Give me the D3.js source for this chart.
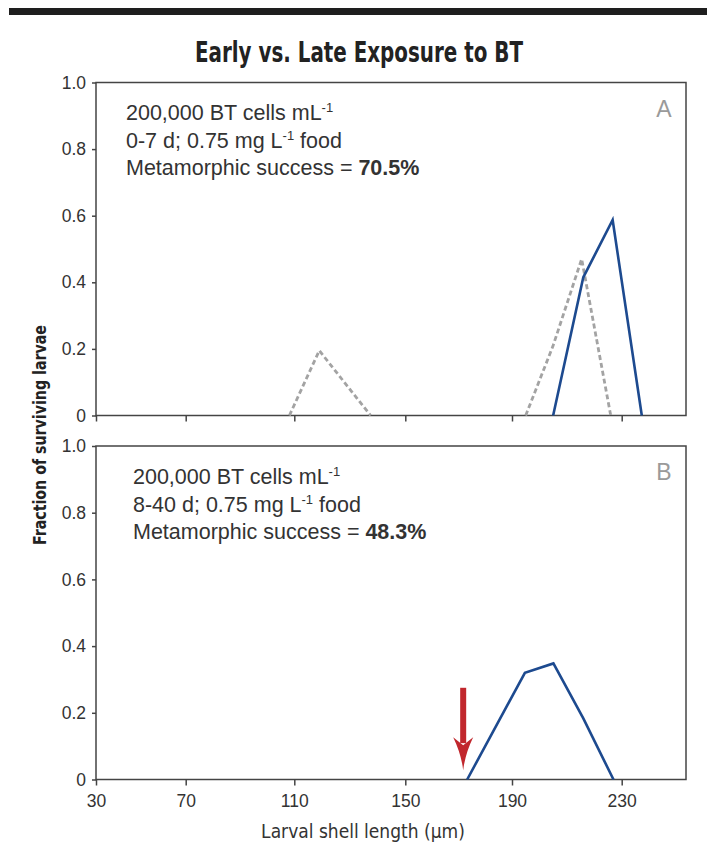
<!DOCTYPE html>
<html>
<head>
<meta charset="utf-8">
<script src="https://cdnjs.cloudflare.com/ajax/libs/d3/7.8.5/d3.min.js"></script>
<style>
  html, body { margin: 0; padding: 0; background: #fff; }
  svg { display: block; }
</style>
</head>
<body>
<div id="chart"></div>
<script>
// ---------------- DATA ----------------
const titleText = "Early vs. Late Exposure to BT";
const yAxisLabel = "Fraction of surviving larvae";
const xAxisLabel = "Larval shell length (\u03bcm)";

const xTickValues = [30, 70, 110, 150, 190, 230];
const xTickLabels = ["30", "70", "110", "150", "190", "230"];
const xDomainMax = 254;
const yTickValues = [0, 0.2, 0.4, 0.6, 0.8, 1.0];
const yTickLabels = ["0", "0.2", "0.4", "0.6", "0.8", "1.0"];

// Panel A — solid (blue) series
const panelASolidX = [205, 216, 226.7, 237.5];
const panelASolidY = [0, 0.415, 0.587, 0];
// Panel A — dashed (grey) series (null = gap)
const panelADashX = [108.2, 119, 137.5, null, 195, 205, 215.4, 226];
const panelADashY = [0, 0.195, 0, null, 0, 0.21, 0.47, 0];

// Panel B — solid (blue) series
const panelBSolidX = [173.2, 194.7, 205.1, 216, 227];
const panelBSolidY = [0, 0.32, 0.348, 0.183, 0];

// Panel B — red arrow annotation
const arrowX = 171.7;
const arrowFromY = 0.275;
const arrowToY = 0.028;

const panelTexts = [
  { letter: "A", days: "0-7 d; 0.75 mg L", success: "70.5%" },
  { letter: "B", days: "8-40 d; 0.75 mg L", success: "48.3%" }
];

// ---------------- LAYOUT ----------------
const W = 707, H = 846;
const left = 96, right = 686;
// measured pixel positions of the tick marks along the x axis (axis start labelled 30)
const xTickPixels = [96, 185.7, 294.3, 405.3, 512, 621.7, 686];
const panels = [
  { top: 82.5, bottom: 415.5, textX: 126, textY: 120, showLabels: false },
  { top: 446, bottom: 779.5, textX: 133, textY: 484, showLabels: true }
];

const svg = d3.select("#chart").append("svg")
  .attr("width", W).attr("height", H)
  .style("font-family", "'Liberation Sans', Arial, sans-serif");

// top black rule
svg.append("rect").attr("x", 9).attr("y", 8).attr("width", W - 9).attr("height", 7).attr("fill", "#1e1e1e");

// title
svg.append("text")
  .attr("x", 359).attr("y", 62)
  .attr("text-anchor", "middle")
  .attr("textLength", 328).attr("lengthAdjust", "spacingAndGlyphs")
  .style("font-family", "'DejaVu Sans Condensed', 'Liberation Sans', sans-serif")
  .style("font-weight", "bold")
  .style("font-size", "28px")
  .attr("fill", "#222")
  .text(titleText);

// x scale (piecewise, matching the original axis)
const x = d3.scaleLinear().domain([...xTickValues, xDomainMax]).range(xTickPixels);

const axisColor = "#444";

panels.forEach((p, i) => {
  const y = d3.scaleLinear().domain([0, 1]).range([p.bottom, p.top]);
  const g = svg.append("g");

  // frame
  g.append("rect")
    .attr("x", left).attr("y", p.top)
    .attr("width", right - left).attr("height", p.bottom - p.top)
    .attr("fill", "none").attr("stroke", axisColor).attr("stroke-width", 1.5);

  // y axis
  const yAxis = d3.axisLeft(y).tickValues(yTickValues)
    .tickFormat((d, k) => yTickLabels[k]).tickSize(4).tickPadding(6);
  const ya = g.append("g").attr("transform", `translate(${left},0)`).call(yAxis);
  ya.select(".domain").remove();
  ya.selectAll(".tick line").attr("stroke", axisColor).attr("stroke-width", 1.5);
  ya.selectAll(".tick text")
    .style("font-family", "'Liberation Sans', Arial, sans-serif")
    .style("font-size", "17.5px").attr("fill", "#333");

  // x axis
  const xAxis = d3.axisBottom(x).tickValues(xTickValues)
    .tickFormat((d, k) => p.showLabels ? xTickLabels[k] : "").tickSize(6).tickPadding(9);
  const xa = g.append("g").attr("transform", `translate(0,${p.bottom})`).call(xAxis);
  xa.select(".domain").remove();
  xa.selectAll(".tick line").attr("stroke", axisColor).attr("stroke-width", 1.5);
  xa.selectAll(".tick text")
    .style("font-family", "'Liberation Sans', Arial, sans-serif")
    .style("font-size", "17.5px").attr("fill", "#333");

  // panel letter
  g.append("text")
    .attr("x", 664).attr("y", p.top + 34)
    .attr("text-anchor", "middle")
    .style("font-size", "23px").attr("fill", "#9a9a9a")
    .text(panelTexts[i].letter);

  // annotation text
  const t = g.append("g").attr("fill", "#333").style("font-size", "21.5px");
  const l1 = t.append("text").attr("x", p.textX).attr("y", p.textY);
  l1.append("tspan").text("200,000 BT cells mL");
  l1.append("tspan").attr("dy", -8).style("font-size", "13px").text("-1");
  const l2 = t.append("text").attr("x", p.textX).attr("y", p.textY + 27.5);
  l2.append("tspan").text(panelTexts[i].days);
  l2.append("tspan").attr("dy", -8).style("font-size", "13px").text("-1");
  l2.append("tspan").attr("dy", 8).text(" food");
  const l3 = t.append("text").attr("x", p.textX).attr("y", p.textY + 55);
  l3.append("tspan").text("Metamorphic success = ");
  l3.append("tspan").style("font-weight", "bold").text(panelTexts[i].success);

  p.y = y;
  p.g = g;
});

function drawLine(g, y, xs, ys, color, dash) {
  const pts = xs.map((v, k) => [v, ys[k]]);
  const gen = d3.line()
    .defined(d => d[0] != null && d[1] != null)
    .x(d => x(d[0])).y(d => y(d[1]));
  g.append("path").datum(pts)
    .attr("d", gen)
    .attr("fill", "none")
    .attr("stroke", color)
    .attr("stroke-width", dash ? 2.8 : 2.6)
    .attr("stroke-linejoin", "miter")
    .attr("stroke-dasharray", dash || null);
}

const blue = "#1d4a8f";
const grey = "#a3a3a3";

// Panel A
drawLine(panels[0].g, panels[0].y, panelADashX, panelADashY, grey, "5,3");
drawLine(panels[0].g, panels[0].y, panelASolidX, panelASolidY, blue);

// Panel B
drawLine(panels[1].g, panels[1].y, panelBSolidX, panelBSolidY, blue);

// red arrow
(function () {
  const yb = panels[1].y;
  const ax = x(arrowX);
  const yTop = yb(arrowFromY);
  const yTip = yb(arrowToY);
  const headH = 33, headW = 10;
  const g = panels[1].g;
  g.append("rect")
    .attr("x", ax - 3).attr("y", yTop)
    .attr("width", 6).attr("height", (yTip - headH + 6) - yTop)
    .attr("fill", "#c1272d");
  g.append("path")
    .attr("d", `M${ax},${yTip} Q${ax - 2},${yTip - headH * 0.5} ${ax - headW},${yTip - headH} L${ax},${yTip - headH + 8} L${ax + headW},${yTip - headH} Q${ax + 2},${yTip - headH * 0.5} ${ax},${yTip} Z`)
    .attr("fill", "#c1272d");
})();

// y axis label
svg.append("text")
  .attr("transform", "translate(46,435) rotate(-90)")
  .attr("text-anchor", "middle")
  .attr("textLength", 220).attr("lengthAdjust", "spacingAndGlyphs")
  .style("font-family", "'DejaVu Sans Condensed', 'Liberation Sans', sans-serif")
  .style("font-weight", "bold")
  .style("font-size", "17px")
  .attr("fill", "#222")
  .text(yAxisLabel);

// x axis label
svg.append("text")
  .attr("x", 363).attr("y", 838)
  .attr("text-anchor", "middle")
  .style("font-family", "'DejaVu Sans Condensed', 'Liberation Sans', sans-serif")
  .style("font-size", "19px")
  .attr("fill", "#333")
  .text(xAxisLabel);
</script>
</body>
</html>
